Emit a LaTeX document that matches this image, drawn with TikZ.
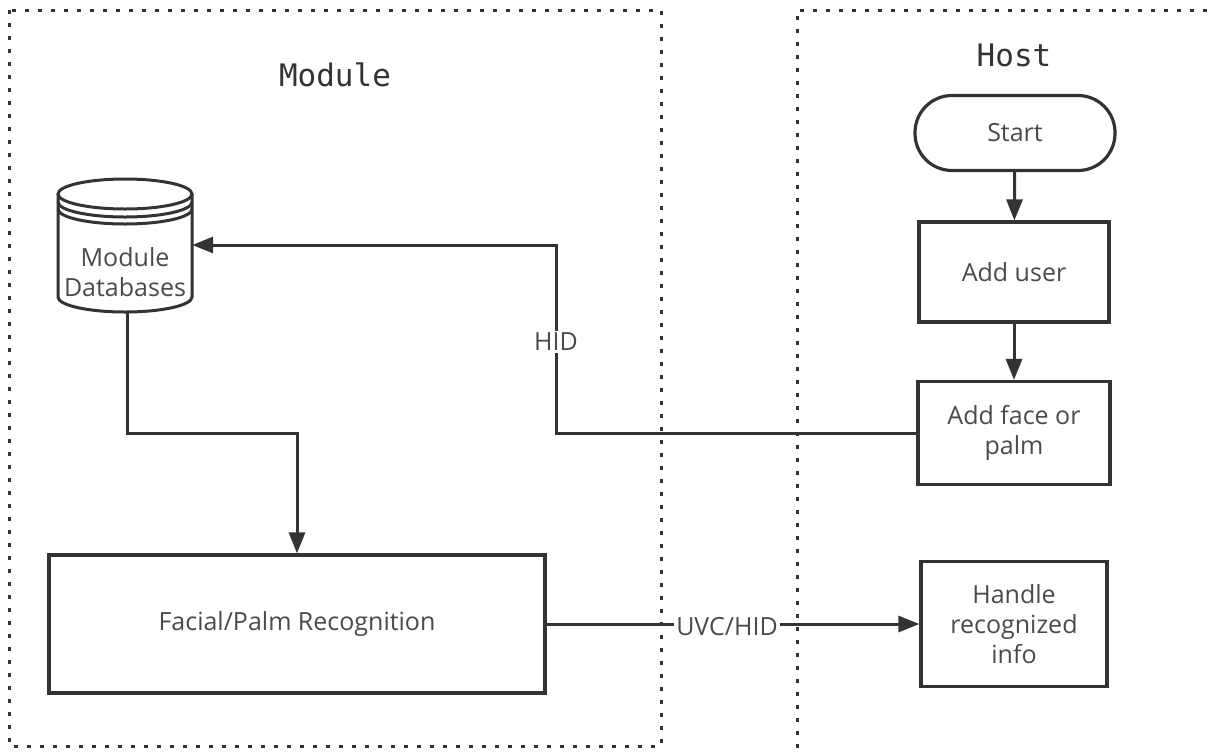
\documentclass[tikz,border=0pt]{standalone}
\usepackage{fontspec}
\setmainfont{Open Sans}
\newfontfamily\titlefont{DejaVu Sans Mono}
\usetikzlibrary{arrows.meta}
\definecolor{ink}{HTML}{333333}
\definecolor{txt}{HTML}{4A4A4A}
\begin{document}
\begin{tikzpicture}[x=1pt,y=-1pt,
  every node/.style={font=\fontsize{25}{30}\selectfont, text=txt, align=center, inner sep=0pt},
  zone/.style={draw=ink, line width=3pt, dash pattern=on 4pt off 9pt},
  box/.style={draw=ink, line width=3.2pt, fill=white},
  conn/.style={draw=ink, line width=3pt},
  arr/.style={conn, -{Triangle[length=21pt,width=16pt]}},
  title/.style={font=\titlefont\fontsize{31}{34}\selectfont, text=ink}]
\useasboundingbox (0,0) rectangle (1210,753);
% zones
\draw[zone] (9,10) rectangle (661,746);
\draw[zone] (797,748) -- (797,10) -- (1214,10);
\node[title] (tmod) at (335,75) {Module};
\node[title] (thost) at (1014,55) {Host};
% module database (cylinder)
\node[minimum width=134pt, minimum height=134pt] (db) at (125,245) {};
\begin{scope}[line width=3pt, draw=ink]
  \draw[ink, fill=white] (58,194) -- (58,297) arc[start angle=180,end angle=0,x radius=67,y radius=15] -- (192,194);
  \draw[ink, fill=white] (125,194) ellipse[x radius=67,y radius=15];
  \draw[ink] (58,202) arc[start angle=180,end angle=0,x radius=67,y radius=15];
  \draw[ink] (58,209) arc[start angle=180,end angle=0,x radius=67,y radius=15];
\end{scope}
\node at (125,272) {Module\\Databases};
% recognition box
\node[box, minimum width=496pt, minimum height=138pt] (rec) at (297,624) {Facial/Palm Recognition};
% host boxes
\node[box, rounded corners=37pt, minimum width=200pt, minimum height=75pt] (start) at (1015,133) {Start};
\node[box, minimum width=190pt, minimum height=100pt] (add) at (1014,272) {Add user};
\node[box, minimum width=192pt, minimum height=103pt] (face) at (1014,433) {Add face or\\palm};
\node[box, minimum width=186pt, minimum height=125pt] (handle) at (1014,624) {Handle\\recognized\\info};
% connectors
\draw[arr] (start) -- (add);
\draw[arr] (add) -- (face);
\coordinate (hidA) at (556,433);
\coordinate (hidB) at (556,245);
\draw[arr] (face.west) -- (hidA) -- (hidB) -- (db.east |- hidB);
\node[fill=white, inner sep=2pt] (hid) at (556,342) {HID};
\coordinate (dbA) at (127,433);
\coordinate (dbB) at (297,433);
\draw[arr] (db.south -| dbA) -- (dbA) -- (dbB) -- (rec.north -| dbB);
\draw[arr] (rec.east |- handle.west) -- (handle.west);
\node[fill=white, inner sep=2pt] (uvc) at (727,627) {UVC/HID};
\end{tikzpicture}
\end{document}
